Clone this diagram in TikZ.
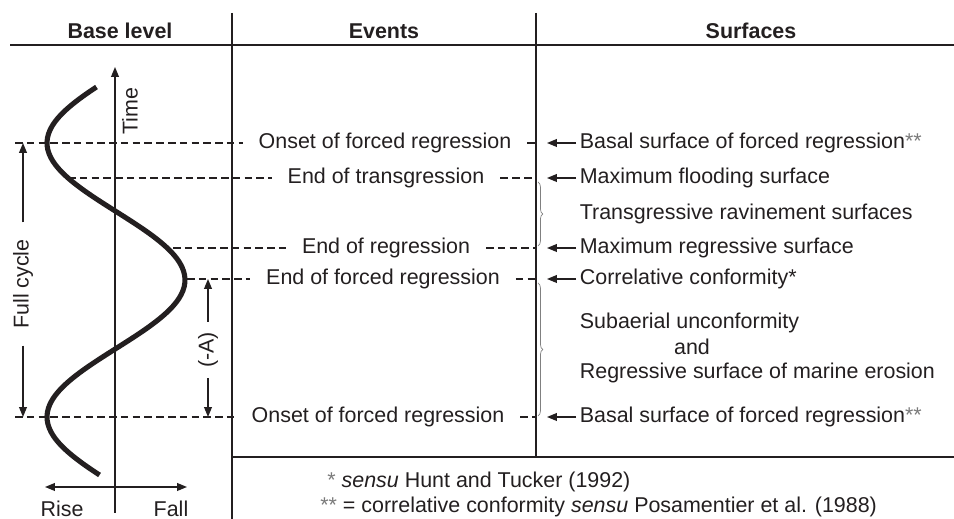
\documentclass[tikz,border=0pt]{standalone}
\usepackage{fontspec}
\setmainfont{Liberation Sans}
\usetikzlibrary{arrows.meta, decorations.pathreplacing, positioning}
\definecolor{ink}{HTML}{231F20}
\definecolor{stargray}{HTML}{7A7A7A}
\tikzset{
  >={Triangle[length=5.6pt, width=4.4pt]},
  every picture/.style={line join=round, font=\fontsize{12.2}{14}\selectfont},
  rule/.style={draw=ink, line width=0.75pt},
  guide/.style={draw=ink, line width=0.6pt, dash pattern=on 4.3pt off 2.4pt},
  bcurve/.style={draw=ink, line width=2.9pt},
  axis/.style={draw=ink, line width=0.75pt},
  pointer/.style={draw=ink, line width=0.75pt, ->},
  bracket/.style={draw=gray, line width=0.4pt, decorate, decoration={brace, amplitude=2.8pt}},
  head/.style={font=\fontsize{12.2}{14}\selectfont\bfseries},
  event/.style={inner xsep=9pt, text height=8.8pt, text depth=2.5pt},
  surface/.style={anchor=west, inner xsep=2pt, text height=8.8pt, text depth=2.5pt},
  sidelabel/.style={rotate=90, inner ysep=0pt},
}
\newcommand\stars[1]{\textcolor{stargray}{#1}}

\begin{document}
\begin{tikzpicture}[x=0.02cm, y=-0.02cm, every node/.style={text=ink}]
  \useasboundingbox (0,0) rectangle (954,519);
  % ---------------- table frame
  \draw[rule] (10,45) -- (954,45);
  \draw[rule] (232,13) -- (232,519);
  \draw[rule] (536,13) -- (536,457);
  \draw[rule] (232,457) -- (954,457);
  \node[head] (hbase) at (120,31) {Base level};
  \node[head] (hevents) at (384,31) {Events};
  \node[head] (hsurf) at (751,31) {Surfaces};
  % ---------------- base level curve, time and rise/fall axes
  \coordinate (tbot) at (115,513);
  \coordinate (ttop) at (115,67);
  \draw[axis, ->] (tbot) -- (ttop);
  \node[sidelabel] (time) at (130,111) {Time};
  \coordinate (rise) at (45,487);
  \coordinate (fall) at (187,487);
  \draw[axis, <->] (rise) -- (fall);
  \node (lrise) at (62,509) {Rise};
  \node (lfall) at (171,509) {Fall};
  \draw[bcurve] plot[domain=-56:332, samples=100, smooth] ({116-69*cos(\x/137*180)}, {143+\x});
  % ---------------- events (dashed ties from the curve to the surfaces column)
  \coordinate (s1) at (15,143);  \coordinate (e1) at (536,143);
  \coordinate (s2) at (68,178);  \coordinate (e2) at (536,178);
  \coordinate (s3) at (173,248); \coordinate (e3) at (536,248);
  \coordinate (s4) at (187,279); \coordinate (e4) at (536,279);
  \coordinate (s5) at (15,417);  \coordinate (e5) at (536,417);
  \node[event] (onsetA) at (385,143) {Onset of forced regression};
  \node[event] (endT) at (386,178) {End of transgression};
  \node[event] (endR) at (386,248) {End of regression};
  \node[event] (endFR) at (383,279) {End of forced regression};
  \node[event] (onsetB) at (378,417) {Onset of forced regression};
  \draw[guide] (s1) -- (onsetA) (onsetA) -- (e1);
  \draw[guide] (s2) -- (endT) (endT) -- (e2);
  \draw[guide] (s3) -- (endR) (endR) -- (e3);
  \draw[guide] (s4) -- (endFR) (endFR) -- (e4);
  \draw[guide] (s5) -- (onsetB) (onsetB) -- (e5);
  % ---------------- full cycle and (-A)
  \node[sidelabel, inner xsep=9.5pt] (fcycle) at (23,284) {Full cycle};
  \coordinate (fctop) at (23,143);
  \coordinate (fcbot) at (23,417);
  \draw[pointer] (fcycle) -- (fctop);
  \draw[pointer] (fcycle) -- (fcbot);
  \node[sidelabel, inner xsep=5.6pt] (amp) at (208,350) {(-A)};
  \coordinate (atop) at (208,279);
  \coordinate (abot) at (208,417);
  \draw[pointer] (amp) -- (atop);
  \draw[pointer] (amp) -- (abot);
  % ---------------- surfaces
  \coordinate (p1) at (547,143);
  \coordinate (p2) at (547,178);
  \coordinate (p3) at (547,248);
  \coordinate (p4) at (547,279);
  \coordinate (p5) at (547,417);
  \node[surface] (basalA) at (576,143) {Basal surface of forced regression\stars{**}};
  \node[surface] (mfs) at (576,178) {Maximum flooding surface};
  \node[surface] (trs) at (576,214) {Transgressive ravinement surfaces};
  \node[surface] (mrs) at (576,248) {Maximum regressive surface};
  \node[surface] (ccons) at (576,279) {Correlative conformity*};
  \node[surface] (subu) at (576,323) {Subaerial unconformity};
  \node (andw) at (692,347) {and};
  \node[surface] (rsme) at (576,373) {Regressive surface of marine erosion};
  \node[surface] (basalB) at (576,417) {Basal surface of forced regression\stars{**}};
  \draw[pointer] (basalA) -- (p1);
  \draw[pointer] (mfs) -- (p2);
  \draw[pointer] (mrs) -- (p3);
  \draw[pointer] (ccons) -- (p4);
  \draw[pointer] (basalB) -- (p5);
  \draw[bracket] (538,182) -- (538,246);
  \draw[bracket] (538,283) -- (538,416);
  % ---------------- footnotes
  \node[anchor=west, inner sep=0pt] (fn1) at (327,482) {\stars{*} \textit{sensu} Hunt and Tucker (1992)};
  \node[anchor=west, inner sep=0pt] (fn2) at (320,507) {\stars{**} = correlative conformity \textit{sensu} Posamentier et al. (1988)};
\end{tikzpicture}
\end{document}
